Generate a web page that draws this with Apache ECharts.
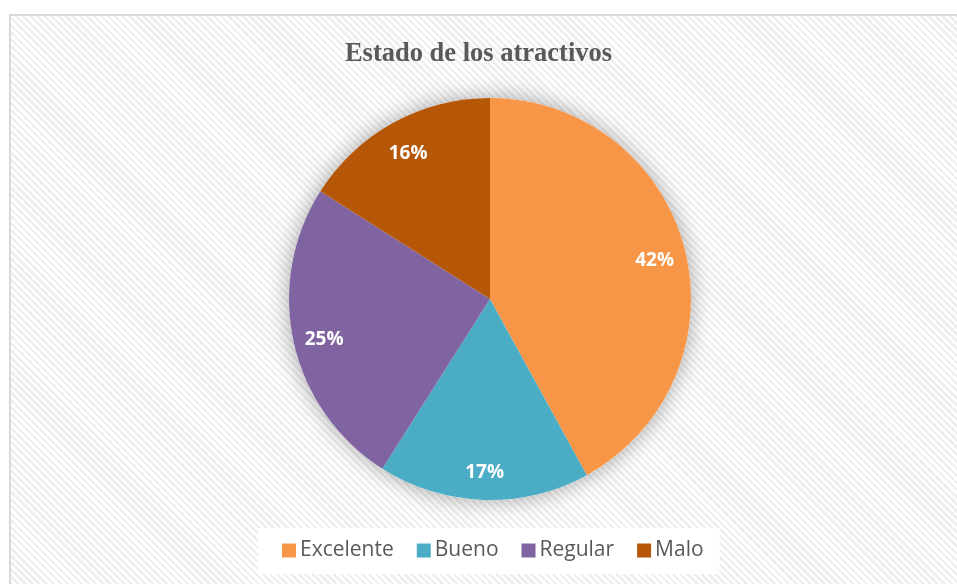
<!DOCTYPE html>
<html>
<head>
<meta charset="utf-8">
<script src="https://cdn.jsdelivr.net/npm/echarts@6/dist/echarts.min.js"></script>
<style>
  html, body { margin: 0; padding: 0; background: #fff; }
  #frame {
    position: absolute; left: 9px; top: 14px; width: 960px; height: 580px;
    border-left: 2px solid #d9d9d9; border-top: 2px solid #d9d9d9;
    background: repeating-linear-gradient(45deg, #ffffff 0px, #ffffff 2.5px, #efefef 2.5px, #efefef 5px);
  }
  #main { position: absolute; left: 0; top: 0; width: 957px; height: 584px; }
</style>
</head>
<body>
<div id="frame"></div>
<div id="main"></div>
<script>
// datos del grafico
var categorias = ['Excelente', 'Bueno', 'Regular', 'Malo'];
var porcentajes = [42, 17, 25, 16];
var colores = ['#F79646', '#4BACC6', '#8064A2', '#B65708'];

var datos = [];
for (var i in categorias) {
	datos.push({ name: categorias[i], value: porcentajes[i], itemStyle: { color: colores[i] } });
}

var myChart = echarts.init(document.getElementById('main'));
var option = {
	backgroundColor: 'transparent',
	animation: false,
	title: {
		text: 'Estado de los atractivos',
		left: 'center',
		top: 36,
		textStyle: { fontFamily: 'Liberation Serif', fontWeight: 'bold', fontSize: 26.5, color: '#595959' }
	},
	legend: {
		data: categorias,
		left: 258,
		top: 528,
		backgroundColor: '#ffffff',
		padding: [12, 16, 13, 24],
		itemWidth: 14,
		itemHeight: 14,
		itemGap: 23,
		icon: 'rect',
		textStyle: { fontFamily: 'Open Sans', fontSize: 21, color: '#595959', padding: [0, 0, 0, -1] }
	},
	series: [
		{
			// sombra
			type: 'pie',
			silent: true,
			center: [490, 299],
			radius: 201,
			label: { show: false },
			data: [{ value: 1, name: '', itemStyle: { color: '#ffffff', shadowBlur: 22, shadowColor: 'rgba(0,0,0,0.35)' } }]
		},
		{
			name: 'Estado',
			type: 'pie',
			center: [490, 299],
			radius: 201,
			startAngle: 90,
			clockwise: true,
			label: { show: false },
			labelLine: { show: false },
			data: datos
		},
		{
			// etiquetas
			type: 'pie',
			silent: true,
			center: [490, 303],
			radius: [0, 334],
			startAngle: 90,
			clockwise: true,
			itemStyle: { color: 'rgba(0,0,0,0)' },
			label: {
				show: true,
				position: 'inside',
				formatter: '{c}%',
				color: '#ffffff',
				fontFamily: 'Open Sans',
				fontWeight: 'bold',
				fontSize: 19
			},
			labelLine: { show: false },
			data: categorias.map(function (c, i) { return { name: c, value: porcentajes[i] }; })
		}
	]
};
myChart.setOption(option);
</script>
</body>
</html>
